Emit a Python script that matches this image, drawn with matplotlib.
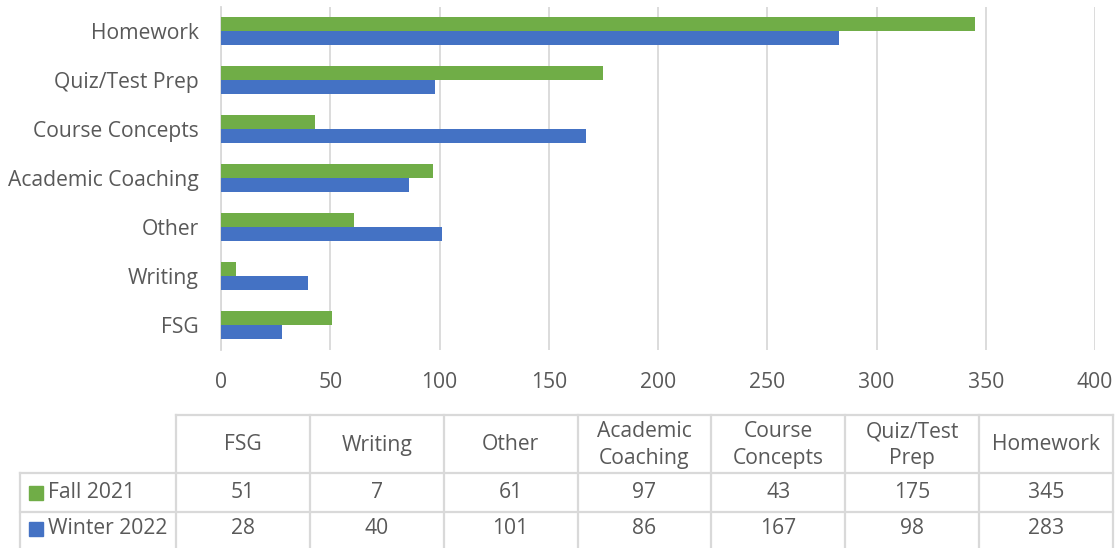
import numpy as np
import matplotlib.pyplot as plt

categories = ['FSG', 'Writing', 'Other', 'Academic Coaching', 'Course Concepts', 'Quiz/Test Prep', 'Homework']
header_labels = ['FSG', 'Writing', 'Other', 'Academic\nCoaching', 'Course\nConcepts', 'Quiz/Test\nPrep', 'Homework']
fall_2021 = [51, 7, 61, 97, 43, 175, 345]
winter_2022 = [28, 40, 101, 86, 167, 98, 283]
series_names = ['Fall 2021', 'Winter 2022']
xticks = [0, 50, 100, 150, 200, 250, 300, 350, 400]

GREEN = '#70AD47'
BLUE = '#4472C4'
TXT = '#595959'
GRID = '#D9D9D9'

plt.rcParams['font.family'] = ['Open Sans', 'DejaVu Sans']

W, H = 1118, 548
fig = plt.figure(figsize=(W / 100, H / 100), dpi=100)

# chart area in pixel coordinates
left, right, top, bottom = 221, 1095, 6.5, 349.5
ax = fig.add_axes([left / W, 1 - bottom / H, (right - left) / W, (bottom - top) / H])

y = np.arange(len(categories))
h = 0.286
ax.barh(y + h / 2, fall_2021, height=h, color=GREEN, zorder=3)
ax.barh(y - h / 2, winter_2022, height=h, color=BLUE, zorder=3)

fs = 15.2
ax.set_xlim(0, 400)
ax.set_ylim(-0.5, len(categories) - 0.5)
ax.set_xticks(xticks)
ax.set_yticks(y)
ax.set_yticklabels(categories)
ax.tick_params(axis='both', length=0, labelsize=fs, colors=TXT)
ax.tick_params(axis='x', pad=16.5)
ax.tick_params(axis='y', pad=16)
ax.grid(axis='x', color=GRID, linewidth=1.3, zorder=0)
for s in ['top', 'right', 'bottom']:
    ax.spines[s].set_visible(False)
ax.spines['left'].set_color(GRID)
ax.spines['left'].set_linewidth(1.3)
ax.set_facecolor('none')

# data table below the chart, drawn in pixel coordinates
tab = fig.add_axes([0, 0, 1, 1])
tab.set_xlim(0, W)
tab.set_ylim(H, 0)
tab.axis('off')
tab.set_zorder(-1)

col_x = np.linspace(176, 1113, len(categories) + 1)
row_y = [415, 473, 512, 550]
lw = 1.6
tab.plot([col_x[0], col_x[-1]], [row_y[0], row_y[0]], color=GRID, lw=lw)
for yy in row_y[1:]:
    tab.plot([20, col_x[-1]], [yy, yy], color=GRID, lw=lw)
for xx in col_x:
    tab.plot([xx, xx], [row_y[0], row_y[-1]], color=GRID, lw=lw)
tab.plot([20, 20], [row_y[1], row_y[-1]], color=GRID, lw=lw)

for i, lab in enumerate(header_labels):
    cx = (col_x[i] + col_x[i + 1]) / 2
    tab.text(cx, (row_y[0] + row_y[1]) / 2 + 1, lab, ha='center', va='center',
             fontsize=fs, color=TXT, linespacing=1.35)

for r, (name, vals, col) in enumerate(zip(series_names, [fall_2021, winter_2022], [GREEN, BLUE])):
    cy = (row_y[r + 1] + row_y[r + 2]) / 2
    if r == 1:
        cy = 529
    tab.add_patch(plt.Rectangle((29, cy - 7), 14, 14, color=col))
    tab.text(48, cy, name, ha='left', va='center', fontsize=fs, color=TXT)
    for i, v in enumerate(vals):
        cx = (col_x[i] + col_x[i + 1]) / 2
        tab.text(cx, cy, str(v), ha='center', va='center', fontsize=fs, color=TXT)

fig.savefig('out.png', dpi=100)
